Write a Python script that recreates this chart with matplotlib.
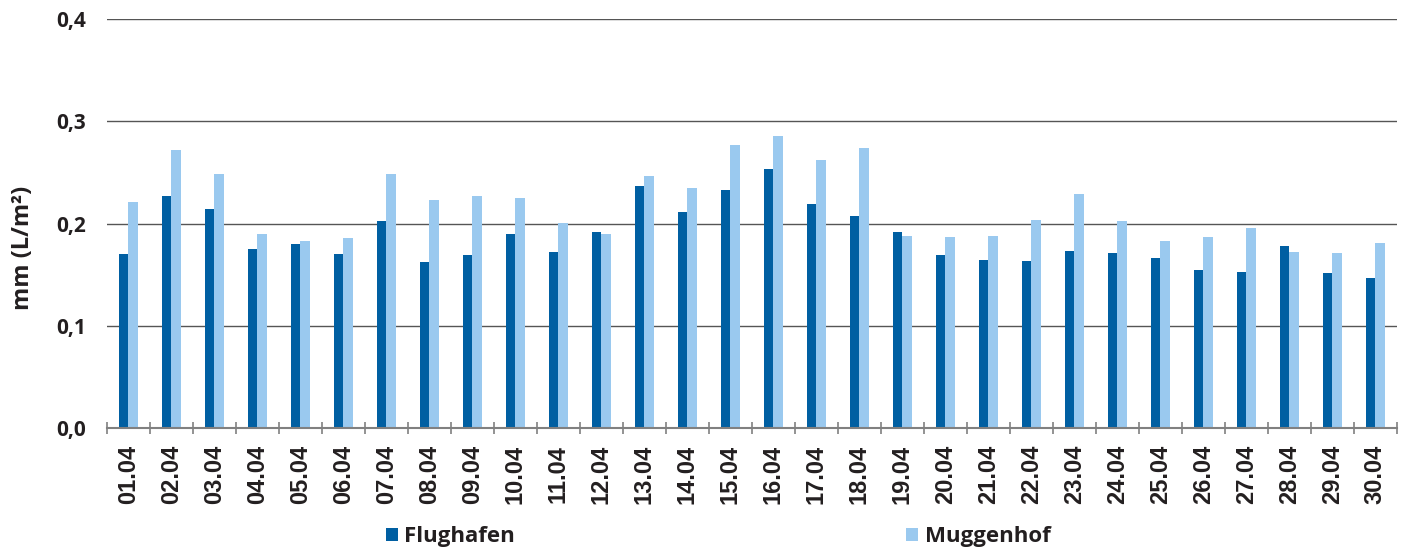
import matplotlib.pyplot as plt
import numpy as np

# daily values, April
days = [f"{d:02d}.04" for d in range(1, 31)]
flughafen = [0.170, 0.227, 0.214, 0.175, 0.180, 0.170, 0.202, 0.162, 0.169, 0.190,
             0.172, 0.192, 0.237, 0.211, 0.233, 0.253, 0.219, 0.207, 0.192, 0.169,
             0.164, 0.163, 0.173, 0.171, 0.166, 0.155, 0.153, 0.178, 0.152, 0.147]
muggenhof = [0.221, 0.272, 0.248, 0.190, 0.183, 0.186, 0.248, 0.223, 0.227, 0.225,
             0.201, 0.190, 0.246, 0.235, 0.277, 0.286, 0.262, 0.274, 0.188, 0.187,
             0.188, 0.203, 0.229, 0.202, 0.183, 0.187, 0.196, 0.172, 0.171, 0.181]
y_ticks = [0.0, 0.1, 0.2, 0.3, 0.4]
y_ticklabels = ["0,0", "0,1", "0,2", "0,3", "0,4"]

DARK = "#005FA2"
LIGHT = "#9AC9EF"
TEXT = "#231F20"

fig = plt.figure(figsize=(14.11, 5.53), dpi=100)
ax = fig.add_axes([0.0758, 0.226, 0.9142, 0.7396])

x = np.arange(len(days))
w = 0.22
ax.bar(x - w / 2, flughafen, width=w, color=DARK, label="Flughafen", zorder=3)
ax.bar(x + w / 2, muggenhof, width=w, color=LIGHT, label="Muggenhof", zorder=3)

ax.set_xlim(-0.5, len(days) - 0.5)
ax.set_ylim(0, 0.4)

ax.set_yticks(y_ticks)
ax.set_yticklabels(y_ticklabels, fontsize=15, fontweight="bold",
                   family="Open Sans", color=TEXT)
ax.tick_params(axis="y", length=0, pad=15)
ax.yaxis.grid(True, color="#555555", linewidth=1.0, zorder=0)
ax.set_axisbelow(True)

ax.set_xticks(x)
ax.set_xticklabels(days, rotation=90, fontsize=17, fontweight="bold",
                   family="Liberation Sans", color=TEXT)
ax.tick_params(axis="x", which="major", length=0, pad=12)
ax.set_xticks(np.arange(len(days) + 1) - 0.5, minor=True)
ax.tick_params(axis="x", which="minor", direction="inout", length=9,
               width=1.2, color="#808080")

for side in ["top", "right", "left"]:
    ax.spines[side].set_visible(False)
ax.spines["bottom"].set_color("#808080")
ax.spines["bottom"].set_linewidth(1.5)
ax.spines["bottom"].set_zorder(4)

fig.text(0.016, 0.552, "mm (L/m²)", rotation=90, ha="center", va="center",
         fontsize=17, fontweight="bold", family="Open Sans", color=TEXT)

fig.legend(loc="center", bbox_to_anchor=(0.509, 0.029), ncol=2, frameon=False,
           prop={"family": "Open Sans", "weight": "bold", "size": 16},
           handlelength=0.55, handleheight=0.55, handletextpad=0.3,
           columnspacing=17.6, labelcolor=TEXT)

fig.savefig("out.png", dpi=100)
